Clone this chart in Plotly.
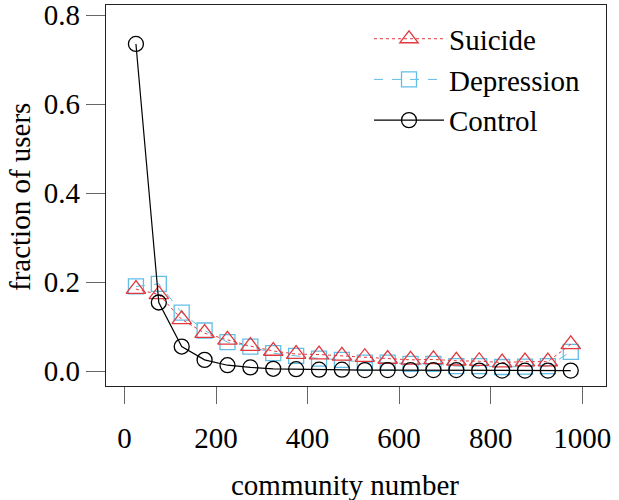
import plotly.graph_objects as go

community = [25, 75, 125, 175, 225, 275, 325, 375, 425, 475, 525, 575, 625, 675, 725, 775, 825, 875, 925, 975]
suicide = [0.184, 0.172, 0.116, 0.085, 0.070, 0.056, 0.045, 0.038, 0.037, 0.034, 0.031, 0.027, 0.025, 0.026, 0.023, 0.022, 0.019, 0.021, 0.021, 0.060]
depression = [0.190, 0.196, 0.131, 0.091, 0.065, 0.055, 0.040, 0.034, 0.028, 0.025, 0.019, 0.019, 0.016, 0.016, 0.011, 0.011, 0.009, 0.010, 0.011, 0.043]
control = [0.735, 0.154, 0.055, 0.025, 0.013, 0.008, 0.005, 0.004, 0.003, 0.003, 0.002, 0.002, 0.002, 0.002, 0.002, 0.001, 0.001, 0.001, 0.001, 0.001]

x_ticks = [0, 200, 400, 600, 800, 1000]
y_ticks = [0.0, 0.2, 0.4, 0.6, 0.8]

RED = "#E0393E"
BLUE = "#62BEE6"
FONT = "Liberation Serif"
FS = 29

fig = go.Figure()
fig.add_trace(go.Scatter(x=community, y=depression, name="Depression", mode="lines+markers",
                         line=dict(color=BLUE, width=1, dash="dash"), legendrank=2,
                         marker=dict(symbol="square-open", size=15, color=BLUE, line=dict(width=1.3))))
fig.add_trace(go.Scatter(x=community, y=suicide, name="Suicide", mode="lines+markers",
                         line=dict(color=RED, width=1, dash="dot"), legendrank=1,
                         marker=dict(symbol="triangle-up-open", size=17, color=RED, line=dict(width=1.3))))
fig.add_trace(go.Scatter(x=community, y=control, name="Control", mode="lines+markers",
                         line=dict(color="black", width=1.2), legendrank=3,
                         marker=dict(symbol="circle-open", size=15, color="black", line=dict(width=1.3))))

fig.update_layout(
    width=619, height=500,
    margin=dict(l=106, r=13, t=5, b=114, autoexpand=False),
    paper_bgcolor="white", plot_bgcolor="white",
    font=dict(family=FONT, size=FS, color="black"),
    showlegend=True,
    legend=dict(x=0.526, y=0.978, xanchor="left", yanchor="top",
                bgcolor="rgba(0,0,0,0)", font=dict(family=FONT, size=FS),
                traceorder="normal", itemwidth=70),
    annotations=[
        dict(text="community number", x=0.478, y=0, xref="paper", yref="paper",
             xanchor="center", yanchor="middle", yshift=-99, showarrow=False,
             font=dict(family=FONT, size=FS)),
        dict(text="fraction of users", x=-0.172, y=0.496, xref="paper", yref="paper",
             xanchor="center", yanchor="middle", textangle=-90, showarrow=False,
             font=dict(family=FONT, size=FS)),
    ],
)
fig.update_xaxes(range=[-40.4, 1052], tickvals=x_ticks, ticktext=[str(v) for v in x_ticks],
                 automargin=False, ticklabeloverflow="allow",
                 showgrid=False, zeroline=False, showline=True, mirror=True,
                 linecolor="#222222", linewidth=1.2, ticks="outside", ticklen=17,
                 tickcolor="#666666", tickwidth=1.2, ticklabelstandoff=9)
fig.update_yaxes(range=[-0.0337, 0.8225], tickvals=y_ticks, ticktext=[f"{v:.1f}" for v in y_ticks],
                 automargin=False, ticklabeloverflow="allow",
                 showgrid=False, zeroline=False, showline=True, mirror=True,
                 linecolor="#222222", linewidth=1.2, ticks="outside", ticklen=19,
                 tickcolor="#666666", tickwidth=1.2, ticklabelstandoff=0)

fig.write_html("out.html", config={"displayModeBar": False},
               post_script="document.body.style.margin='0';document.body.style.overflow='hidden';")
